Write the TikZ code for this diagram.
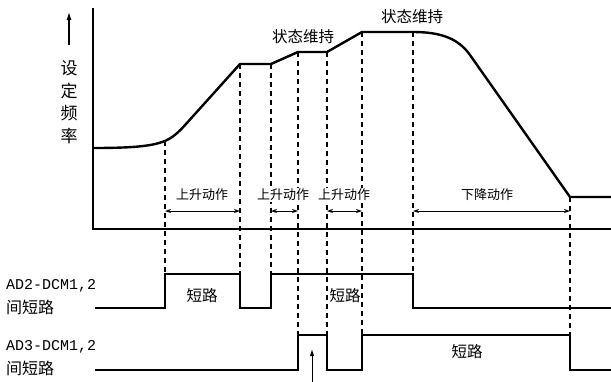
\documentclass[tikz,border=0pt]{standalone}
\usepackage{fontspec}
\setmainfont{Noto Sans CJK SC}
\newfontfamily\latmono{Liberation Mono}
\usetikzlibrary{positioning,calc,arrows.meta}
\definecolor{inkdark}{RGB}{0,0,0}

\begin{document}
\begin{tikzpicture}[x=1pt, y=-1pt,
  freqline/.style={draw=inkdark, line width=2.4pt, line join=round},
  sigline/.style={draw=inkdark, line width=2.2pt, line join=miter},
  guide/.style={draw=inkdark, dash pattern=on 5pt off 4pt, line width=1.1pt},
  span/.style={{Stealth[length=6pt,width=4pt]}-{Stealth[length=6pt,width=4pt]}, draw=inkdark, line width=0.8pt},
  actlabel/.style={fill=white, inner xsep=0pt, inner ysep=1.5pt, font=\fontsize{13}{15}\selectfont},
  holdlabel/.style={inner sep=0pt, font=\fontsize{15.5}{17}\selectfont},
  shortlabel/.style={inner sep=0pt, font=\fontsize{15.5}{17}\selectfont},
  sidelabel/.style={inner sep=0pt, align=left, anchor=west, font=\fontsize{16}{24}\selectfont}]
\useasboundingbox (0,0) rectangle (611,381);

% axes
\coordinate (origin) at (93,229);
\coordinate (ytop) at (93,8);
\coordinate (xend) at (611,229);
\draw[line width=1.4pt] (ytop) -- (origin) -- (xend);
\coordinate (fa) at (69,45);
\coordinate (fb) at (69,12);
\draw[-{Latex[length=8pt,width=5pt]}, line width=1.1pt] (fa) -- (fb);
\node[inner sep=0pt, align=center, font=\fontsize{17}{22.6}\selectfont] (freq) at (69,102) {设\\定\\频\\率};

% break points of the set frequency
\coordinate (up1s) at (165,141);
\coordinate (up1e) at (240,64);
\coordinate (up2s) at (271,64);
\coordinate (up2e) at (298,52);
\coordinate (up3s) at (327,52);
\coordinate (up3e) at (362,32);
\coordinate (dn1s) at (413,32);
\coordinate (dn1e) at (570,197);

\draw[freqline] (93,148) .. controls (135,148) and (152,146) .. (up1s)
  .. controls (172,138) and (178,133) .. (186,124) -- (up1e) -- (up2s) -- (up2e)
  -- (up3s) -- (up3e) -- (dn1s) .. controls (440,32) and (458,38) .. (470,55)
  -- (dn1e) -- (611,197);

% levels of the two signals
\coordinate (hiA) at (0,274);
\coordinate (loA) at (0,308);
\coordinate (hiB) at (0,335);
\coordinate (loB) at (0,370);

\foreach \p in {up1s,up1e,up2s,dn1s}
  \draw[guide] (\p) -- (\p |- hiA);
\foreach \p in {up2e,up3s,up3e,dn1e}
  \draw[guide] (\p) -- (\p |- hiB);

% action spans
\coordinate (spy) at (0,211);
\draw[span] (up1s |- spy) -- (up1e |- spy);
\draw[span] (up2s |- spy) -- (up2e |- spy);
\draw[span] (up3s |- spy) -- (up3e |- spy);
\draw[span] (dn1s |- spy) -- (dn1e |- spy);
\node[actlabel] (act1) at (202,195) {上升动作};
\node[actlabel] (act2) at (283,195) {上升动作};
\node[actlabel] (act3) at (344,195) {上升动作};
\node[actlabel] (act4) at (487,195) {下降动作};
\node[holdlabel] (hold1) at (303,37) {状态维持};
\node[holdlabel] (hold2) at (412,17) {状态维持};

% signal AD2
\draw[sigline] (95,308) -- (up1s |- loA) -- (up1s |- hiA) -- (up1e |- hiA) -- (up1e |- loA)
  -- (up2s |- loA) -- (up2s |- hiA) -- (dn1s |- hiA) -- (dn1s |- loA) -- (611,308);
% signal AD3
\draw[sigline] (95,370) -- (up2e |- loB) -- (up2e |- hiB) -- (up3s |- hiB) -- (up3s |- loB)
  -- (up3e |- loB) -- (up3e |- hiB) -- (dn1e |- hiB) -- (dn1e |- loB) -- (611,370);

\node[shortlabel] (sA1) at (202,296) {短路};
\node[shortlabel] (sA2) at (345,296) {短路};
\node[shortlabel] (sB1) at (467,352) {短路};

\node[sidelabel] (adA) at (6,297) {{\latmono\fontsize{15}{24}\selectfont AD2-DCM1,2}\\间短路};
\node[sidelabel] (adB) at (6,358) {{\latmono\fontsize{15}{24}\selectfont AD3-DCM1,2}\\间短路};

\coordinate (mark) at (312,382);
\coordinate (marktip) at (312,349);
\draw[-{Latex[length=7pt,width=4.5pt]}, line width=1pt] (mark) -- (marktip);
\end{tikzpicture}
\end{document}
